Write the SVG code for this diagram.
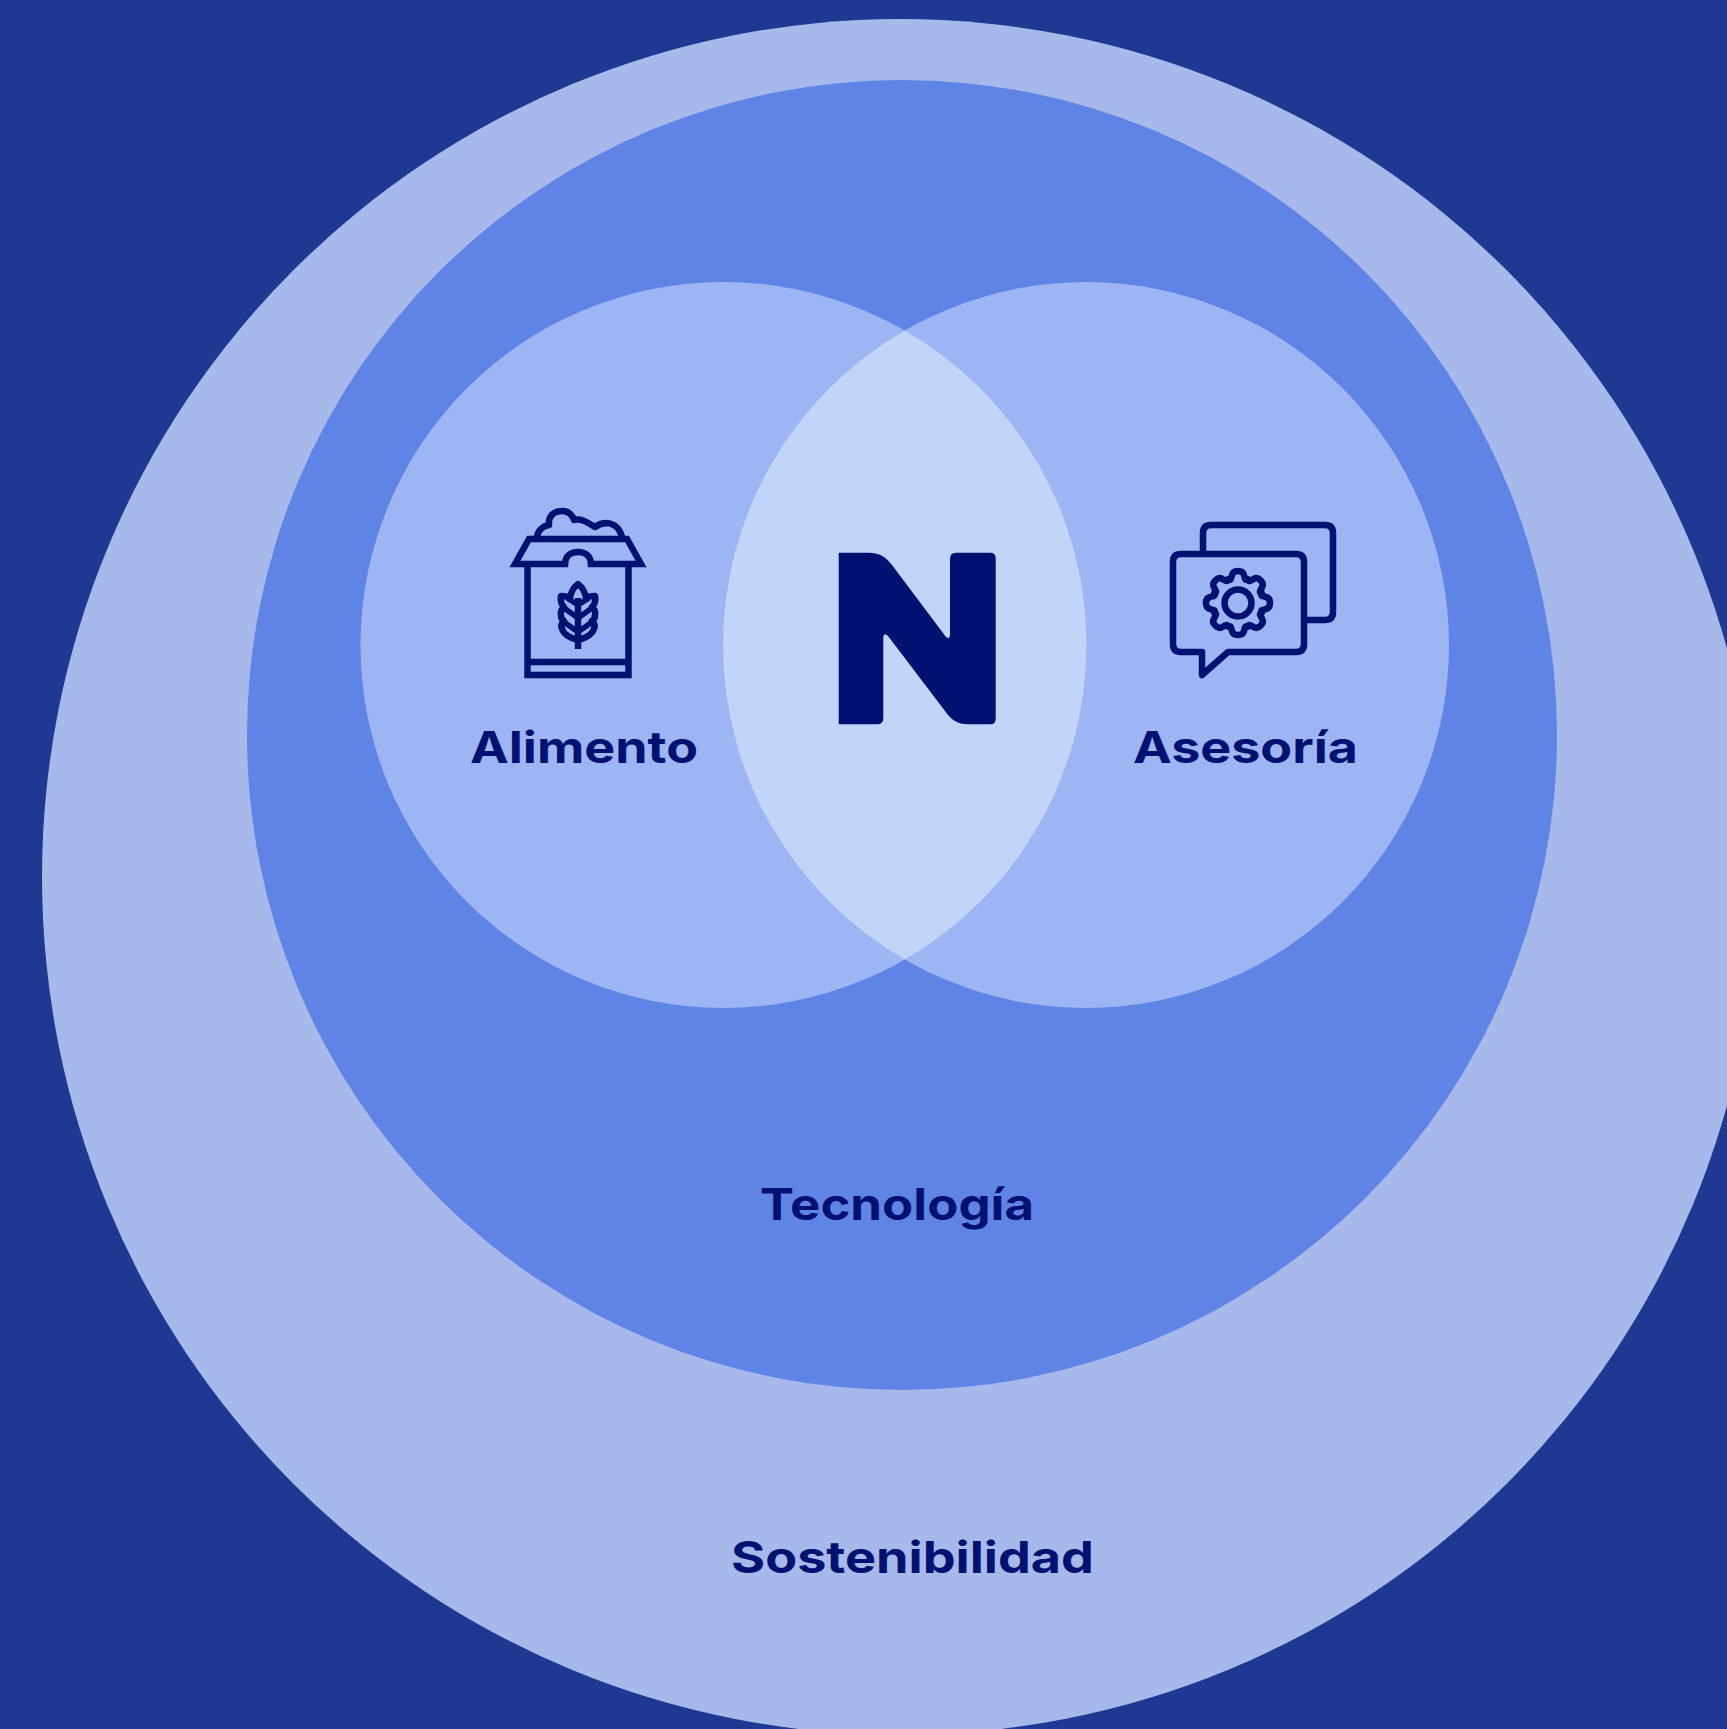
<svg xmlns="http://www.w3.org/2000/svg" width="1727" height="1729" viewBox="0 0 1727 1729">
<style>
.ic{fill:none;stroke:#001171;stroke-width:6.5;stroke-linejoin:round;stroke-linecap:round}
.lb{font-family:"Inter","Liberation Sans",sans-serif;font-weight:700;font-size:44px;fill:#001171}
</style>
<defs>
<path id="tooth" d="M-9.6,-23.6 C-7,-22.5 -7,-24 -6,-28 Q-5,-32 0,-32 Q5,-32 6,-28 C7,-24 7,-22.5 9.6,-23.6"/>
</defs>
<rect width="1727" height="1729" fill="#1f3892"/>
<g id="sostenibilidad">
<circle cx="900" cy="877" r="858" fill="#a7b9ea"/>
<text class="lb" x="731" y="1573" textLength="363" lengthAdjust="spacingAndGlyphs">Sostenibilidad</text>
</g>
<g id="tecnologia">
<circle cx="902" cy="735" r="655" fill="#6084e6"/>
<text class="lb" x="760" y="1220" textLength="274" lengthAdjust="spacingAndGlyphs">Tecnología</text>
</g>
<g id="alimento">
<circle cx="723.5" cy="645" r="363" fill="#9db5f2"/>
<g class="ic" style="stroke-linecap:butt;stroke-linejoin:miter">
<path d="M515,564 H565 C565,556 571,552 578,552 C585,552 591,556 591,564 H641 L627,539 H529 Z"/>
<path d="M527.5,564 V675 H628.5 V564 M527.5,662 H628.5"/>
<path style="stroke-linejoin:round" d="M537,537 C538,530 543,526 549,525 C548,516 554,511 562,511 C568,511 572,514 574,520 C581,518 587,522 595,527 C602,522 617,519 622,537"/>
<path d="M578,598 V649"/>
<path style="stroke-linejoin:round" d="M578,584 C582,587 585,592 586,598 C589,596 592,596 595,596 C596,601 595,604 592,607 C595,610 596,612 595,615 C595,618 594,620 592,621 C595,624 595,627 594,629 C592,635 586,638 578,640 C570,638 564,635 562,629 C561,627 561,624 564,621 C562,620 561,618 561,615 C560,612 561,610 564,607 C561,604 560,601 561,596 C564,596 567,596 570,598 C571,592 574,587 578,584 Z"/>
<path d="M578,605 L589,598 M578,605 L567,598 M578,618 L592,608 M578,618 L564,608 M578,632 L592,622 M578,632 L564,622" style="stroke-width:5.5"/>
</g>
<text class="lb" x="470" y="763" textLength="228" lengthAdjust="spacingAndGlyphs">Alimento</text>
</g>
<g id="asesoria">
<circle cx="1086" cy="645" r="363" fill="#9db5f2"/>
<g class="ic">
<path d="M1203,553 V533 Q1203,525 1211,525 H1325 Q1333,525 1333,533 V612 Q1333,620 1325,620 H1305"/>
<path d="M1181,554 H1296 Q1304,554 1304,562 V644 Q1304,652 1296,652 H1228 L1202,675 V652 H1181 Q1173,652 1173,644 V562 Q1173,554 1181,554 Z"/>
<circle cx="1238" cy="603" r="13.5"/>
<g transform="translate(1238 603)">
<use href="#tooth"/>
<use href="#tooth" transform="rotate(45)"/>
<use href="#tooth" transform="rotate(90)"/>
<use href="#tooth" transform="rotate(135)"/>
<use href="#tooth" transform="rotate(180)"/>
<use href="#tooth" transform="rotate(225)"/>
<use href="#tooth" transform="rotate(270)"/>
<use href="#tooth" transform="rotate(315)"/>
</g>
</g>
<text class="lb" x="1133" y="763" textLength="225" lengthAdjust="spacingAndGlyphs">Asesoría</text>
</g>
<g id="nucleo">
<path fill="#c2d4f8" d="M904.75,330.5 A363,363 0 0 1 904.75,959.5 A363,363 0 0 1 904.75,330.5 Z"/>
<path fill="#001171" d="M838.7,552.7 H868 C879,552.7 885,556 892,565 L946,637 Q949.5,640 950,635 V559 Q950,552.7 956,552.7 H990 Q995.7,552.7 995.7,558 V719 Q995.7,724.3 990.5,724.3 H968 C958,724.3 951,720 945,711 L888,636 Q884,632 883.3,637 V718 Q883.3,724.3 877,724.3 H838.7 Z"/>
</g>
</svg>
